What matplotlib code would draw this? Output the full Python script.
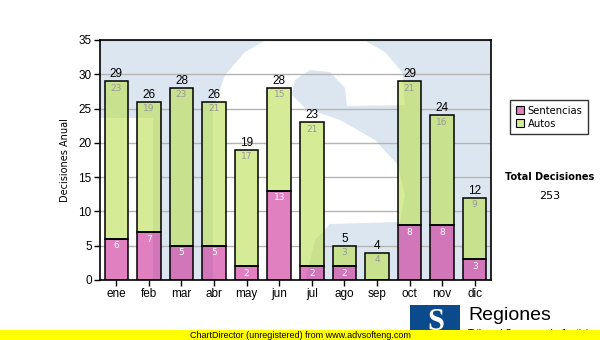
import matplotlib.pyplot as plt
import matplotlib.transforms as mtransforms
from matplotlib.patches import Polygon, Rectangle, Patch

meses = ["ene", "feb", "mar", "abr", "may", "jun", "jul", "ago", "sep", "oct", "nov", "dic"]
sentencias = [6, 7, 5, 5, 2, 13, 2, 2, 0, 8, 8, 3]
autos = [23, 19, 23, 21, 17, 15, 21, 3, 4, 21, 16, 9]
totales = [s + a for s, a in zip(sentencias, autos)]

col_sent = (0.80, 0.17, 0.59)
col_autos = (0.73, 0.87, 0.31)
fondo = "#dce6f0"
ancho = 0.72

fig = plt.figure(figsize=(6, 3.4), dpi=100)
ax = fig.add_axes([100 / 600, 60 / 340, 391 / 600, 240 / 340])
ax.set_facecolor(fondo)

# pixel coordinates (origin top-left) for the watermark and footer
pix = mtransforms.Affine2D().scale(1 / 600, -1 / 340).translate(0, 1) + fig.transFigure

s_pts = [(213, 280), (213, 110), (225, 75), (245, 52), (270, 38), (360, 38), (385, 52),
         (402, 72), (405, 105), (347, 106), (345, 88), (330, 72), (310, 70), (295, 80),
         (292, 95), (305, 108), (340, 120), (375, 140), (398, 165), (405, 195),
         (400, 222), (330, 224), (315, 240), (305, 282)]
izq_pts = [(98, 118), (153, 118), (153, 282), (98, 282)]


def marca_agua(z, clip=None):
    for pts in (s_pts, izq_pts):
        p = Polygon(pts, closed=True, transform=pix, facecolor="white",
                    edgecolor="none", zorder=z)
        ax.add_patch(p)
        if clip is not None:
            p.set_clip_path(clip)


marca_agua(0)
ax.yaxis.grid(True, color="#b4b4b4", linewidth=1, zorder=0.5)
ax.set_axisbelow(True)

x = range(len(meses))
# backdrop inside each bar so the grid stays behind them
for i in x:
    caja = Rectangle((i - ancho / 2, 0), ancho, totales[i], facecolor=fondo,
                     edgecolor="none", zorder=1)
    ax.add_patch(caja)
    marca_agua(1.1, clip=caja)

ax.bar(x, sentencias, width=ancho, color=col_sent, alpha=0.6, zorder=2)
ax.bar(x, autos, width=ancho, bottom=sentencias, color=col_autos, alpha=0.6, zorder=2)
ax.bar(x, sentencias, width=ancho, fill=False, edgecolor="black", linewidth=1.1, zorder=3)
ax.bar(x, autos, width=ancho, bottom=sentencias, fill=False, edgecolor="black",
       linewidth=1.1, zorder=3)

off = mtransforms.offset_copy(ax.transData, fig=fig, x=0, y=-7, units="dots")
up = mtransforms.offset_copy(ax.transData, fig=fig, x=0, y=7, units="dots")
for i in x:
    ax.text(i, totales[i], str(totales[i]), transform=up, ha="center", va="center",
            fontsize=8.5, family="Liberation Sans", zorder=4)
    ax.text(i, totales[i], str(autos[i]), transform=off, ha="center", va="center",
            fontsize=6.5, color="#999999", zorder=4)
    if sentencias[i] > 0:
        ax.text(i, sentencias[i], str(sentencias[i]), transform=off, ha="center",
                va="center", fontsize=6.5, color="white", zorder=4)

ax.set_xlim(-0.5, 11.5)
ax.set_ylim(0, 35)
ax.set_yticks(range(0, 36, 5))
ax.set_xticks(list(x))
ax.set_xticklabels(meses)
ax.tick_params(axis="both", labelsize=8.5, length=4, width=1, pad=2)
for lbl in ax.get_xticklabels() + ax.get_yticklabels():
    lbl.set_family("Liberation Sans")
for sp in ax.spines.values():
    sp.set_linewidth(1.2)
    sp.set_zorder(5)
ax.set_ylabel("Decisiones Anual", fontsize=7, labelpad=6)

handles = [Patch(facecolor="#e080c0", edgecolor="black", linewidth=0.8, label="Sentencias"),
           Patch(facecolor="#d6ec96", edgecolor="black", linewidth=0.8, label="Autos")]
leg = fig.legend(handles=handles, loc="upper left", bbox_to_anchor=(510 / 600, 1 - 100 / 340),
                 fontsize=7.2, frameon=True, fancybox=False, handlelength=0.8,
                 handleheight=0.8, handletextpad=0.4, borderpad=0.55, labelspacing=0.3,
                 borderaxespad=0)
leg.get_frame().set_edgecolor("black")
leg.get_frame().set_linewidth(1)

fig.text(550 / 600, 1 - 177 / 340, "Total Decisiones", ha="center", va="center",
         fontsize=7, fontweight="bold")
fig.text(550 / 600, 1 - 196 / 340, "253", ha="center", va="center", fontsize=8)

# logo
fig.patches.append(Rectangle((410, 305), 50, 35, transform=pix, facecolor="#0b4a8c",
                             edgecolor="none"))
fig.text(436 / 600, 1 - 322 / 340, "S", ha="center", va="center", fontsize=22,
         fontweight="bold", color="white", family="Liberation Serif")
fig.text(468 / 600, 1 - 316 / 340, "Regiones", ha="left", va="center", fontsize=14,
         family="Liberation Sans")
fig.text(468 / 600, 1 - 334 / 340, "Tribunal Supremo de Justicia", ha="left",
         va="center", fontsize=7, family="Liberation Sans")

fig.patches.append(Rectangle((0, 330), 600, 10, transform=pix, facecolor="yellow",
                             edgecolor="none", zorder=5))
fig.text(300 / 600, 1 - 335 / 340, "ChartDirector (unregistered) from www.advsofteng.com",
         ha="center", va="center", fontsize=6.5, family="Liberation Sans", zorder=6)

fig.savefig("out.png", dpi=100)
